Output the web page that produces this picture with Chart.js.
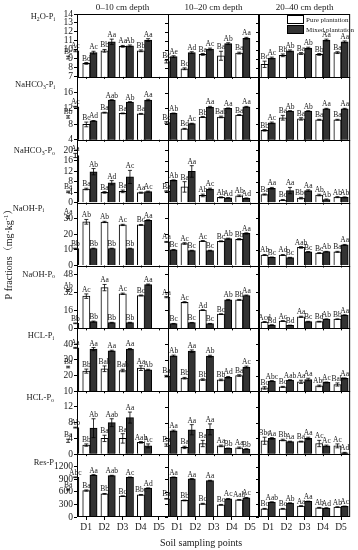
<!DOCTYPE html>
<html>
<head>
<meta charset="utf-8">
<script src="https://cdn.jsdelivr.net/npm/chart.js@4.4.0/dist/chart.umd.min.js"></script>
<style>
  html, body { margin: 0; padding: 0; background: #fff; }
  #wrap { position: relative; width: 358px; height: 550px; }
</style>
</head>
<body>
<div id="wrap"><canvas id="chart" width="358" height="550"></canvas></div>
<script>
const samplingPoints = ["D1", "D2", "D3", "D4", "D5"];
const depths = ["0–10 cm depth", "10–20 cm depth", "20–40 cm depth"];
const seriesNames = ["Pure plantation", "Mixed plantation"];

// row titles, [text, 0 normal | 1 subscript]
const fractionTitles = [
  [["H", 0], ["2", 1], ["O-P", 0], ["i", 1]],
  [["NaHCO", 0], ["3", 1], ["-P", 0], ["i", 1]],
  [["NaHCO", 0], ["3", 1], ["-P", 0], ["o", 1]],
  [["NaOH-P", 0], ["i", 1]],
  [["NaOH-P", 0], ["o", 1]],
  [["HCL-P", 0], ["i", 1]],
  [["HCL-P", 0], ["o", 1]],
  [["Res-P", 0]]
];

const axisMin = [7, 4, 0, 0, 0, 10, 0, 0];
const axisMax = [14, 20, 24, 40, 56, 50, 16, 1500];
const h2oPiTicks = [7, 8, 9, 10, 11, 12, 13, 14];
const nahco3PiTicks = [4, 8, 12, 16];
const nahco3PoTicks = [0, 4, 8, 12, 16, 20];
const naohPiTicks = [0, 10, 20, 30];
const naohPoTicks = [0, 16, 32, 48];
const hclPiTicks = [10, 20, 30, 40];
const hclPoTicks = [0, 4, 8, 12];
const resPTicks = [0, 300, 600, 900, 1200];

// each array: one list per depth, values for D1..D5
const h2oPiPure = [[9.15, 8.5, 9.9, 10.4, 9.9], [8.7, 7.9, 9.5, 9.35, 9.65], [8.4, 9.4, 9.6, 9.5, 9.7]];
const h2oPiMixed = [[9.9, 9.7, 10.9, 10.45, 11.1], [9.25, 9.7, 10.1, 10.7, 11.3], [9.1, 9.9, 10.2, 11.1, 10.9]];
const h2oPiPureSd = [[0.15, 0.1, 0.15, 0.1, 0.1], [0.15, 0.1, 0.1, 0.5, 0.1], [0.35, 0.15, 0.1, 0.1, 0.1]];
const h2oPiMixedSd = [[0.1, 0.15, 0.3, 0.1, 0.15], [0.1, 0.1, 0.1, 0.1, 0.1], [0.1, 0.1, 0.1, 0.1, 0.1]];
const h2oPiPureSig = [["Bc", "Bd", "Bb", "Aa", "Bb"], ["Bc", "Bc", "Ba", "Ba", "Ba"], ["Bc", "Bb", "Ba", "Bb", "Ba"]];
const h2oPiMixedSig = [["Ac", "Ac", "Aa", "Ab", "Aa"], ["Ae", "Ad", "Ac", "Ab", "Aa"], ["Ac", "Ab", "Ab", "Aa", "Aa"]];

const nahco3PiPure = [[9.8, 7.9, 10.9, 10.7, 10.6], [8.4, 6.8, 9.8, 9.8, 10.3], [6.4, 9.6, 9.3, 9.1, 9.1]];
const nahco3PiMixed = [[12.4, 8.8, 14.1, 13.6, 14.1], [10.7, 8.1, 12.3, 12.0, 12.4], [8.3, 11.3, 11.3, 11.9, 11.9]];
const nahco3PiPureSd = [[0.3, 0.6, 0.1, 0.1, 0.1], [0.2, 0.1, 0.1, 0.2, 0.1], [0.2, 0.6, 0.3, 0.1, 0.1]];
const nahco3PiMixedSd = [[0.1, 0.1, 0.1, 0.1, 0.2], [0.1, 0.1, 0.2, 0.1, 0.1], [0.2, 0.1, 0.1, 0.1, 0.1]];
const nahco3PiPureSig = [["Bb", "Bc", "Ba", "Ba", "Ba"], ["Bc", "Bd", "Bb", "Bab", "Ba"], ["Bb", "Ba", "Ba", "Ba", "Ba"]];
const nahco3PiMixedSig = [["Ac", "Ad", "Aab", "Ab", "Aa"], ["Ab", "Ac", "Aa", "Aa", "Aa"], ["Ac", "Ab", "Ab", "Aa", "Aa"]];

const nahco3PoPure = [[4.1, 5.2, 3.9, 4.3, 3.8], [4.3, 6.0, 2.75, 2.0, 2.6], [3.1, 1.0, 1.7, 2.9, 2.1]];
const nahco3PoMixed = [[18.0, 11.8, 7.6, 9.8, 4.2], [8.5, 11.9, 5.2, 1.8, 1.6], [5.5, 4.6, 4.6, 1.2, 2.0]];
const nahco3PoPureSd = [[0.3, 0.3, 0.3, 0.5, 0.2], [0.2, 2.0, 0.5, 0.2, 0.3], [0.2, 0.2, 0.3, 0.3, 0.2]];
const nahco3PoMixedSd = [[0.8, 1.2, 0.8, 2.5, 0.2], [0.2, 2.2, 0.3, 0.1, 0.2], [0.3, 1.2, 0.3, 0.2, 0.2]];
const nahco3PoPureSig = [["Ba", "Ba", "Ba", "Ba", "Aa"], ["Ba", "Ba", "Ab", "Ab", "Ab"], ["Ba", "Bc", "Bbc", "Ab", "Ab"]];
const nahco3PoMixedSig = [["Aa", "Ab", "Ad", "Ac", "Ac"], ["Ab", "Aa", "Ac", "Ad", "Ad"], ["Aa", "Aa", "Aa", "Ab", "Ab"]];

const naohPiPure = [[30.8, 27.8, 27.7, 25.8, 25.8], [15.0, 14.0, 15.6, 15.4, 16.7], [6.7, 6.7, 11.5, 7.9, 8.7]];
const naohPiMixed = [[10.8, 10.8, 10.8, 10.8, 28.8], [10.0, 9.5, 9.5, 17.1, 20.4], [5.2, 5.0, 8.7, 8.8, 13.1]];
const naohPiPureSd = [[0.8, 1.5, 0.4, 0.4, 0.3], [0.3, 0.5, 0.3, 0.3, 0.4], [0.3, 0.3, 0.5, 0.3, 0.3]];
const naohPiMixedSd = [[0.2, 0.2, 0.2, 0.2, 0.3], [0.2, 0.2, 0.2, 0.3, 0.4], [0.2, 0.2, 0.2, 0.2, 0.3]];
const naohPiPureSig = [["Aa", "Ab", "Ab", "Ac", "Bc"], ["Aa", "Ac", "Ac", "Bc", "Bb"], ["Ab", "Ad", "Aab", "Bc", "Ba"]];
const naohPiMixedSig = [["Bb", "Bb", "Bb", "Bb", "Aa"], ["Bc", "Bc", "Bc", "Ab", "Aa"], ["Bc", "Bc", "Bc", "Ab", "Aa"]];

const naohPoPure = [[33.8, 28.7, 36.3, 30.8, 29.3], [27.8, 23.3, 16.3, 12.7, 25.4], [5.7, 6.6, 10.3, 6.0, 8.2]];
const naohPoMixed = [[4.5, 6.0, 5.1, 5.1, 39.0], [4.2, 5.1, 4.2, 25.4, 29.3], [3.0, 2.7, 6.0, 8.2, 11.8]];
const naohPoPureSd = [[0.8, 2.0, 2.8, 0.6, 0.4], [0.5, 0.5, 0.3, 0.3, 0.4], [0.4, 0.3, 0.5, 0.3, 0.3]];
const naohPoMixedSd = [[0.3, 0.5, 0.3, 0.3, 0.5], [0.2, 0.2, 0.2, 0.4, 0.4], [0.2, 0.2, 0.3, 0.3, 0.3]];
const naohPoPureSig = [["Ab", "Ac", "Aa", "Ac", "Bc"], ["Aa", "Ac", "Ad", "Bc", "Bb"], ["Acd", "Ac", "Aa", "Bd", "Bb"]];
const naohPoMixedSig = [["Bb", "Bb", "Bb", "Bb", "Aa"], ["Bc", "Bc", "Bc", "Ab", "Aa"], ["Bd", "Bd", "Bc", "Ab", "Aa"]];

const hclPiPure = [[25.4, 22.8, 24.3, 23.2, 24.7], [19.6, 18.3, 17.4, 17.2, 20.0], [12.1, 12.8, 16.0, 13.4, 14.3]];
const hclPiMixed = [[37.6, 36.8, 35.7, 36.8, 23.7], [32.5, 35.5, 32.3, 18.9, 25.4], [16.5, 17.1, 17.5, 15.6, 18.2]];
const hclPiPureSd = [[0.5, 1.3, 1.8, 0.8, 1.5], [0.5, 0.5, 0.5, 0.5, 0.5], [0.8, 0.3, 1.0, 0.5, 1.0]];
const hclPiMixedSd = [[0.3, 1.0, 0.4, 0.4, 0.3], [0.5, 0.8, 0.6, 0.5, 0.6], [0.3, 0.3, 0.8, 0.3, 0.3]];
const hclPiPureSig = [["Ba", "Bb", "Bab", "Bab", "Aa"], ["Ba", "Bb", "Bb", "Bb", "Ba"], ["Bc", "Bc", "Aa", "Abc", "Bab"]];
const hclPiMixedSig = [["Aa", "Aa", "Aa", "Aa", "Ab"], ["Ab", "Aa", "Ab", "Ad", "Ac"], ["Abc", "Aab", "Aa", "Ac", "Aa"]];

const hclPoPure = [[3.4, 2.3, 4.0, 4.0, 3.0], [2.3, 1.7, 2.7, 2.1, 1.6], [3.4, 3.6, 3.2, 2.7, 2.1]];
const hclPoMixed = [[6.75, 6.6, 8.0, 9.3, 2.1], [5.9, 6.2, 6.3, 1.45, 1.3], [4.0, 3.2, 4.0, 2.1, 0.35]];
const hclPoPureSd = [[0.4, 0.3, 0.8, 1.2, 0.2], [0.3, 0.3, 0.8, 0.2, 0.2], [0.9, 0.2, 0.1, 0.8, 0.5]];
const hclPoMixedSd = [[0.1, 2.4, 1.0, 1.4, 0.5], [0.2, 1.3, 1.4, 0.1, 0.1], [0.2, 0.1, 0.3, 0.2, 0.1]];
const hclPoPureSig = [["Ba", "Bb", "Ba", "Ba", "Aab"], ["Ba", "Ba", "Ba", "Aa", "Aa"], ["Bbc", "Bb", "Ba", "Ac", "Ac"]];
const hclPoMixedSig = [["Ab", "Ab", "Aab", "Aa", "Ac"], ["Aa", "Aa", "Aa", "Bb", "Bb"], ["Aa", "Aa", "Aa", "Ac", "Ad"]];

const resPPure = [[655, 631, 553, 497, 529], [434, 395, 316, 292, 410], [197, 197, 260, 221, 237]];
const resPMixed = [[947, 1002, 987, 947, 687], [947, 908, 868, 434, 458], [355, 331, 371, 213, 253]];
const resPPureSd = [[12, 15, 8, 8, 8], [8, 10, 10, 8, 8], [8, 8, 10, 8, 8]];
const resPMixedSd = [[8, 8, 8, 8, 8], [8, 8, 8, 8, 8], [8, 8, 8, 8, 8]];
const resPPureSig = [["Ba", "Ba", "Bb", "Bc", "Bbc"], ["Ba", "Bb", "Bc", "Bc", "Aab"], ["Bc", "Bc", "Aa", "Ab", "Ab"]];
const resPMixedSig = [["Abc", "Aa", "Aab", "Ac", "Ad"], ["Aa", "Aa", "Aa", "Ac", "Ac"], ["Aab", "Ab", "Aa", "Ad", "Ac"]];

const tickValues = [h2oPiTicks, nahco3PiTicks, nahco3PoTicks, naohPiTicks, naohPoTicks, hclPiTicks, hclPoTicks, resPTicks];
const pureValues = [h2oPiPure, nahco3PiPure, nahco3PoPure, naohPiPure, naohPoPure, hclPiPure, hclPoPure, resPPure];
const mixedValues = [h2oPiMixed, nahco3PiMixed, nahco3PoMixed, naohPiMixed, naohPoMixed, hclPiMixed, hclPoMixed, resPMixed];
const pureSd = [h2oPiPureSd, nahco3PiPureSd, nahco3PoPureSd, naohPiPureSd, naohPoPureSd, hclPiPureSd, hclPoPureSd, resPPureSd];
const mixedSd = [h2oPiMixedSd, nahco3PiMixedSd, nahco3PoMixedSd, naohPiMixedSd, naohPoMixedSd, hclPiMixedSd, hclPoMixedSd, resPMixedSd];
const pureSig = [h2oPiPureSig, nahco3PiPureSig, nahco3PoPureSig, naohPiPureSig, naohPoPureSig, hclPiPureSig, hclPoPureSig, resPPureSig];
const mixedSig = [h2oPiMixedSig, nahco3PiMixedSig, nahco3PoMixedSig, naohPiMixedSig, naohPoMixedSig, hclPiMixedSig, hclPoMixedSig, resPMixedSig];

const SERIF = '"Liberation Serif", "Noto Serif CJK SC", "Noto Sans CJK SC", serif';
const INK = "#1a1a1a";
const DARK = "#333333";

// where each row title sits, relative to the row top
const titleRight = [55, 55, 55, 44, 55, 54, 54, 54];
const titleDy = [2, 7, 10, 5, 8, 7, 6, 8];

function drawRich(ctx, parts, x, y, size, align) {
  const fontFor = k => (k ? size * 0.68 : size) + "px " + SERIF;
  let w = 0;
  parts.forEach(([t, k]) => { ctx.font = fontFor(k); w += ctx.measureText(t).width; });
  let cx = align === "right" ? x - w : align === "center" ? x - w / 2 : x;
  ctx.textAlign = "left";
  ctx.textBaseline = "alphabetic";
  parts.forEach(([t, k]) => {
    ctx.font = fontFor(k);
    const dy = k === 1 ? size * 0.22 : k === 2 ? -size * 0.4 : 0;
    ctx.fillText(t, cx, y + dy);
    cx += ctx.measureText(t).width;
  });
}

// bookkeeping for error bars and letters, same order as datasets
const barInfo = [];
const datasets = [];
fractionTitles.forEach((t, r) => {
  depths.forEach((d, c) => {
    datasets.push({
      label: seriesNames[0], data: pureValues[r][c],
      xAxisID: "x" + c, yAxisID: "y" + r, stack: "pure",
      backgroundColor: "#ffffff", borderColor: "#000", borderWidth: 1
    });
    barInfo.push({ sd: pureSd[r][c], sig: pureSig[r][c] });
    datasets.push({
      label: seriesNames[1], data: mixedValues[r][c],
      xAxisID: "x" + c, yAxisID: "y" + r, stack: "mixed",
      backgroundColor: DARK, borderColor: "#000", borderWidth: 1
    });
    barInfo.push({ sd: mixedSd[r][c], sig: mixedSig[r][c] });
  });
});

const scales = {};
depths.forEach((d, c) => {
  scales["x" + c] = {
    type: "category", position: "bottom", stack: "depth", stackWeight: 1, weight: c,
    offset: true,
    grid: { display: true, drawOnChartArea: false, offset: false, tickLength: 3, color: "#000" },
    border: { display: false },
    ticks: { color: INK, font: { family: SERIF, size: 9.5 }, padding: 2, autoSkip: false, maxRotation: 0 },
    afterFit: s => { s.height = 20; }
  };
});
fractionTitles.forEach((t, r) => {
  scales["y" + r] = {
    type: "linear", position: "left", stack: "fraction", stackWeight: 1, weight: 8 - r,
    min: axisMin[r], max: axisMax[r], beginAtZero: false, stacked: false,
    afterBuildTicks: s => { s.ticks = tickValues[r].map(v => ({ value: v })); },
    grid: { display: true, drawOnChartArea: false, tickLength: 3, color: "#000" },
    border: { display: false },
    ticks: { color: INK, font: { family: SERIF, size: 9.5 }, padding: 1, autoSkip: false, callback: v => String(v) },
    afterFit: s => { s.width = 77; }
  };
});

const barMarks = {
  id: "barMarks",
  afterDatasetsDraw(chart) {
    const ctx = chart.ctx;
    ctx.save();
    ctx.strokeStyle = "#000";
    ctx.lineWidth = 0.8;
    ctx.fillStyle = INK;
    ctx.font = "7.5px " + SERIF;
    ctx.textAlign = "center";
    ctx.textBaseline = "alphabetic";
    chart.data.datasets.forEach((ds, i) => {
      const meta = chart.getDatasetMeta(i);
      const ys = chart.scales[ds.yAxisID];
      const info = barInfo[i];
      meta.data.forEach((bar, j) => {
        const v = ds.data[j], e = info.sd[j];
        const yTop = ys.getPixelForValue(v + e);
        const yLow = ys.getPixelForValue(Math.max(v - e, ys.min));
        ctx.beginPath();
        ctx.moveTo(bar.x, yLow); ctx.lineTo(bar.x, yTop);
        ctx.moveTo(bar.x - 2, yTop); ctx.lineTo(bar.x + 2, yTop);
        ctx.moveTo(bar.x - 2, yLow); ctx.lineTo(bar.x + 2, yLow);
        ctx.stroke();
        ctx.fillText(info.sig[j], bar.x, yTop - 2);
      });
    });
    ctx.restore();
  }
};

const frame = {
  id: "frame",
  afterDraw(chart) {
    const ctx = chart.ctx;
    const a = chart.chartArea;
    const xs = [chart.scales.x0, chart.scales.x1, chart.scales.x2];
    ctx.save();
    ctx.strokeStyle = "#000";
    ctx.lineWidth = 1;
    ctx.strokeRect(a.left + 0.5, a.top + 0.5, a.right - a.left - 1, a.bottom - a.top - 1);
    ctx.beginPath();
    for (let r = 0; r < 7; r++) {
      const yb = Math.round(chart.scales["y" + r].bottom) + 0.5;
      ctx.moveTo(a.left, yb); ctx.lineTo(a.right, yb);
    }
    const x1 = Math.round(xs[1].left) + 0.5;
    ctx.moveTo(x1, a.top); ctx.lineTo(x1, a.bottom);
    ctx.stroke();
    ctx.lineWidth = 2;
    ctx.beginPath();
    const x2 = Math.round(xs[2].left);
    ctx.moveTo(x2, a.top); ctx.lineTo(x2, a.bottom);
    ctx.stroke();

    // tick marks on inner panels and under every row
    ctx.lineWidth = 1;
    ctx.beginPath();
    for (let r = 0; r < 8; r++) {
      const ys = chart.scales["y" + r];
      [1, 2].forEach(c => {
        const xl = Math.round(xs[c].left);
        tickValues[r].forEach(v => {
          const y = Math.round(ys.getPixelForValue(v)) + 0.5;
          ctx.moveTo(xl - 3, y); ctx.lineTo(xl, y);
        });
      });
      if (r < 7) {
        xs.forEach(xsc => {
          samplingPoints.forEach((p, i) => {
            const x = Math.round(xsc.getPixelForValue(i)) + 0.5;
            ctx.moveTo(x, ys.bottom); ctx.lineTo(x, ys.bottom + 2);
          });
        });
      }
    }
    ctx.stroke();

    ctx.fillStyle = INK;
    // row titles
    fractionTitles.forEach((parts, r) => {
      const ys = chart.scales["y" + r];
      drawRich(ctx, parts, titleRight[r], ys.top + titleDy[r] + 3, 8.5, "right");
    });
    // depth titles
    depths.forEach((d, c) => {
      drawRich(ctx, [[d, 0]], (xs[c].left + xs[c].right) / 2, 10, 9, "center");
    });
    // axis titles
    drawRich(ctx, [["Soil sampling points", 0]], 201, 546, 10, "center");
    ctx.save();
    ctx.translate(12, 252);
    ctx.rotate(-Math.PI / 2);
    drawRich(ctx, [["P fractions（mg·kg", 0], ["-1", 2], ["）", 0]], 0, 0, 10, "center");
    ctx.restore();

    // legend in the top right panel
    const lx = 287, ly = 15;
    ctx.fillStyle = "#fff";
    ctx.fillRect(lx, ly, 16, 8);
    ctx.strokeRect(lx + 0.5, ly + 0.5, 16, 8);
    ctx.fillStyle = DARK;
    ctx.fillRect(lx, ly + 10, 16, 8);
    ctx.strokeRect(lx + 0.5, ly + 10.5, 16, 8);
    ctx.fillStyle = INK;
    drawRich(ctx, [[seriesNames[0], 0]], lx + 19, ly + 7, 7, "left");
    drawRich(ctx, [[seriesNames[1], 0]], lx + 19, ly + 17, 7, "left");
    ctx.restore();
  }
};

new Chart(document.getElementById("chart"), {
  type: "bar",
  data: { labels: samplingPoints, datasets: datasets },
  options: {
    responsive: false,
    animation: false,
    devicePixelRatio: 1,
    layout: { padding: { left: 0, top: 14, right: 5, bottom: 13 } },
    // the ruler gets confused by the stacked x axes, so the width is given outright
    datasets: { bar: { barThickness: 7.2, borderSkipped: "start" } },
    plugins: { legend: { display: false }, tooltip: { enabled: false } },
    scales: scales
  },
  plugins: [barMarks, frame]
});
</script>
</body>
</html>
